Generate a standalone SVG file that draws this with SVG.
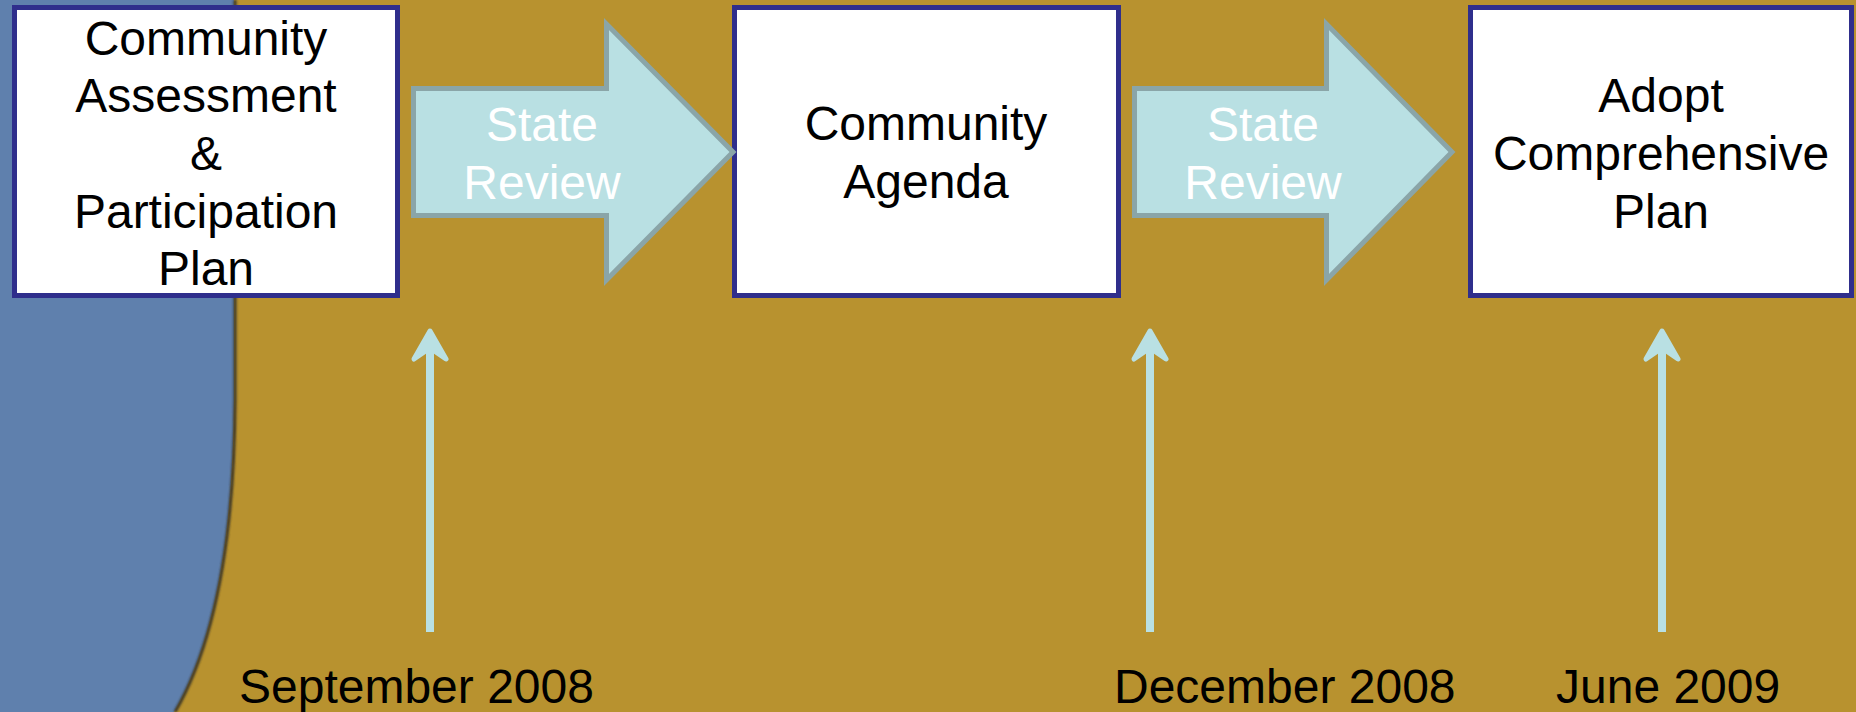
<svg xmlns="http://www.w3.org/2000/svg" width="1856" height="712" viewBox="0 0 1856 712">
<style>
.box{fill:#FFFFFF;stroke:#2F2E8C;stroke-width:5}
.t{font-family:"Liberation Sans",Arial,sans-serif;font-size:48px;fill:#000000;text-anchor:middle}
.d{font-family:"Liberation Sans",Arial,sans-serif;font-size:48px;fill:#000000}
.blk{fill:#B9E0E3;stroke:#8AA5A8;stroke-width:5;stroke-linejoin:miter}
.bt{font-family:"Liberation Sans",Arial,sans-serif;font-size:48px;fill:#FFFFFF;text-anchor:middle}
.shaft{stroke:#B9E0E3;stroke-width:8;fill:none}
.head{fill:#B9E0E3;stroke:#B9E0E3;stroke-width:5;stroke-linejoin:round}
</style>
<defs>
<filter id="blur" x="-10%" y="-10%" width="120%" height="120%"><feGaussianBlur stdDeviation="1"/></filter>
</defs>
<rect x="0" y="0" width="1856" height="712" fill="#B8922F"/>
<g id="side">
<path d="M0,0 L234,0 L234,400 Q233,610 174,712 L0,712 Z" fill="#5F80AD"/>
<path d="M235,0 L235,400 Q234,610 175,712" fill="none" stroke="#3A3628" stroke-width="3" filter="url(#blur)"/>
</g>
<g id="node-assessment">
<rect class="box" x="14.5" y="7.5" width="383" height="288"/>
<text class="t" x="206" y="55">Community</text>
<text class="t" x="206" y="112">Assessment</text>
<text class="t" x="206" y="170">&amp;</text>
<text class="t" x="206" y="228">Participation</text>
<text class="t" x="206" y="285">Plan</text>
</g>
<g id="node-agenda">
<rect class="box" x="734.5" y="7.5" width="384" height="288"/>
<text class="t" x="926" y="140">Community</text>
<text class="t" x="926" y="198">Agenda</text>
</g>
<g id="node-adopt">
<rect class="box" x="1470.5" y="7.5" width="381" height="288"/>
<text class="t" x="1661" y="112">Adopt</text>
<text class="t" x="1661" y="170">Comprehensive</text>
<text class="t" x="1661" y="228">Plan</text>
</g>
<g id="connectors">
<g id="review1">
<polygon class="blk" points="413.5,88.5 606.5,88.5 606.5,24 733,152 606.5,280 606.5,215.5 413.5,215.5"/>
<text class="bt" x="542" y="141">State</text>
<text class="bt" x="542" y="199">Review</text>
</g>
<g id="review2">
<polygon class="blk" points="1134.5,88.5 1326.5,88.5 1326.5,24 1452,152 1326.5,280 1326.5,215.5 1134.5,215.5"/>
<text class="bt" x="1263" y="141">State</text>
<text class="bt" x="1263" y="199">Review</text>
</g>
<g id="marker-sep">
<line class="shaft" x1="430" y1="632" x2="430" y2="345"/>
<polygon class="head" points="430,331 446,359 430,348 414,359"/>
</g>
<g id="marker-dec">
<line class="shaft" x1="1150" y1="632" x2="1150" y2="345"/>
<polygon class="head" points="1150,331 1166,359 1150,348 1134,359"/>
</g>
<g id="marker-jun">
<line class="shaft" x1="1662" y1="632" x2="1662" y2="345"/>
<polygon class="head" points="1662,331 1678,359 1662,348 1646,359"/>
</g>
</g>
<g id="dates">
<text class="d" x="239" y="703">September 2008</text>
<text class="d" x="1114" y="703">December 2008</text>
<text class="d" x="1556" y="703">June 2009</text>
</g>
</svg>
